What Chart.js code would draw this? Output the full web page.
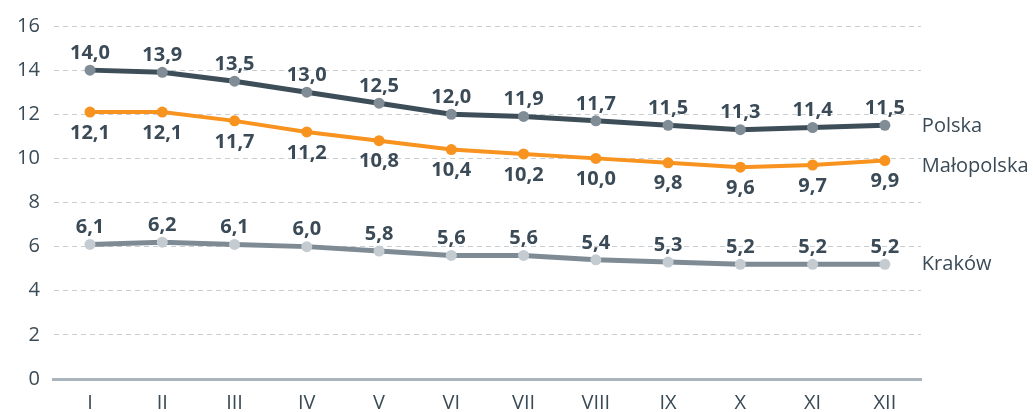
<!DOCTYPE html>
<html>
<head>
<meta charset="utf-8">
<script src="https://cdn.jsdelivr.net/npm/chart.js@4"></script>
<style>
  html, body { margin: 0; padding: 0; background: #fff; }
  #wrap { width: 1033px; height: 412px; }
</style>
</head>
<body>
<div id="wrap"><canvas id="chart" width="1033" height="412"></canvas></div>
<script>
const months = ['I', 'II', 'III', 'IV', 'V', 'VI', 'VII', 'VIII', 'IX', 'X', 'XI', 'XII'];
const polska = [14.0, 13.9, 13.5, 13.0, 12.5, 12.0, 11.9, 11.7, 11.5, 11.3, 11.4, 11.5];
const malopolska = [12.1, 12.1, 11.7, 11.2, 10.8, 10.4, 10.2, 10.0, 9.8, 9.6, 9.7, 9.9];
const krakow = [6.1, 6.2, 6.1, 6.0, 5.8, 5.6, 5.6, 5.4, 5.3, 5.2, 5.2, 5.2];
const seriesNames = ['Polska', 'Małopolska', 'Kraków'];

const fontFamily = '"Open Sans", "Noto Sans", sans-serif';
const textColor = '#3a4a56';

// value labels above / below points, and series names on the right
const labelPlugin = {
    id: 'labels',
    afterDatasetsDraw(chart) {
        const ctx = chart.ctx;
        ctx.save();
        ctx.font = 'bold 20px ' + fontFamily;
        ctx.fillStyle = textColor;
        ctx.textAlign = 'center';
        chart.data.datasets.forEach((ds, i) => {
            const meta = chart.getDatasetMeta(i);
            meta.data.forEach((pt, j) => {
                const txt = ds.data[j].toFixed(1).replace('.', ',');
                if (ds.labelPos === 'below') {
                    ctx.textBaseline = 'top';
                    ctx.fillText(txt, pt.x, pt.y + 11);
                } else {
                    ctx.textBaseline = 'bottom';
                    ctx.fillText(txt, pt.x, pt.y - 7);
                }
            });
        });
        ctx.font = '20px ' + fontFamily;
        ctx.textAlign = 'left';
        ctx.textBaseline = 'middle';
        const last = chart.getDatasetMeta(0).data.length - 1;
        const offsets = [1, 6, 0];
        chart.data.datasets.forEach((ds, i) => {
            const pt = chart.getDatasetMeta(i).data[last];
            ctx.fillText(seriesNames[i], pt.x + 37, pt.y + offsets[i]);
        });
        ctx.restore();
    }
};

const ctx = document.getElementById('chart').getContext('2d');
new Chart(ctx, {
    type: 'line',
    data: {
        labels: months,
        datasets: [
            {
                label: seriesNames[0],
                data: polska,
                borderColor: '#3e4e59',
                backgroundColor: '#808d97',
                pointBackgroundColor: '#808d97',
                pointBorderWidth: 0,
                pointRadius: 5.5,
                borderWidth: 5,
                tension: 0,
                labelPos: 'above'
            },
            {
                label: seriesNames[1],
                data: malopolska,
                borderColor: '#f7931e',
                backgroundColor: '#f7931e',
                pointBackgroundColor: '#f7931e',
                pointBorderWidth: 0,
                pointRadius: 5.5,
                borderWidth: 4,
                tension: 0,
                labelPos: 'below'
            },
            {
                label: seriesNames[2],
                data: krakow,
                borderColor: '#7e8b95',
                backgroundColor: '#c4ccd2',
                pointBackgroundColor: '#c4ccd2',
                pointBorderWidth: 0,
                pointRadius: 5.5,
                borderWidth: 5,
                tension: 0,
                labelPos: 'above'
            }
        ]
    },
    options: {
        responsive: false,
        animation: false,
        layout: { padding: { left: 3, right: 112, top: 8, bottom: -7 } },
        plugins: {
            legend: { display: false },
            tooltip: { enabled: false }
        },
        scales: {
            x: {
                offset: true,
                grid: { display: false },
                border: { display: true, color: '#a9b4bc', width: 3 },
                ticks: {
                    color: textColor,
                    font: { family: fontFamily, size: 20, lineHeight: 1 },
                    padding: 6
                }
            },
            y: {
                min: 0,
                max: 16,
                ticks: {
                    stepSize: 2,
                    color: textColor,
                    font: { family: fontFamily, size: 20 },
                    padding: 14
                },
                grid: { color: '#c9ced3', lineWidth: 1, drawTicks: false },
                border: { display: false, dash: [5, 4] }
            }
        }
    },
    plugins: [labelPlugin]
});
</script>
</body>
</html>
